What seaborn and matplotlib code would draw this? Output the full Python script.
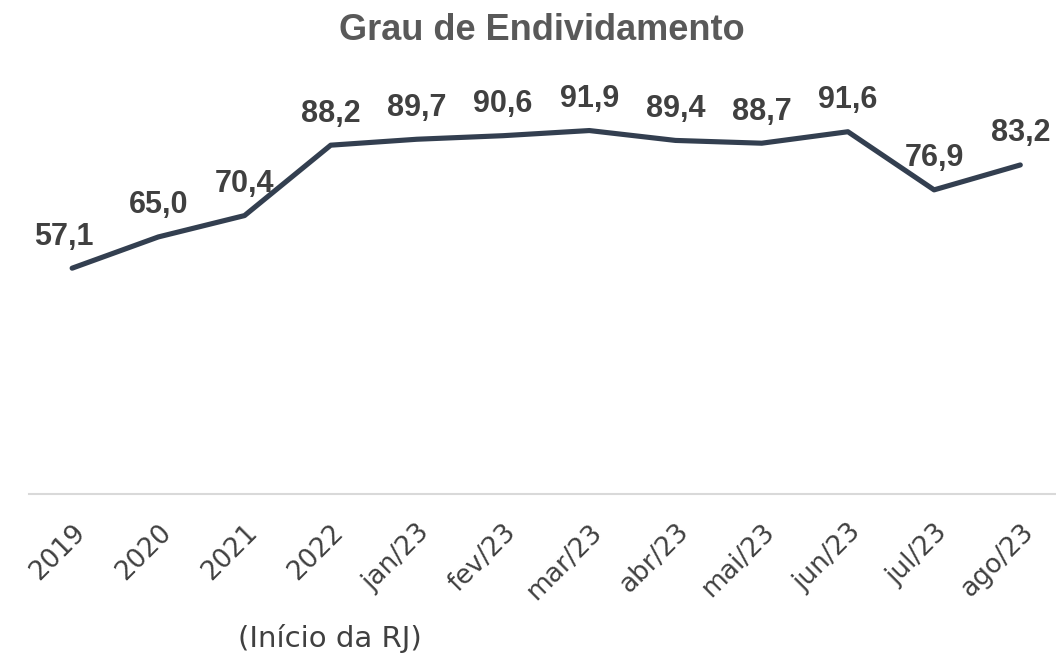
import pandas as pd
import seaborn as sb
import matplotlib.pyplot as plt

# dados do grafico
periodos = ["2019", "2020", "2021", "2022", "jan/23", "fev/23", "mar/23",
            "abr/23", "mai/23", "jun/23", "jul/23", "ago/23"]
grau = [57.1, 65.0, 70.4, 88.2, 89.7, 90.6, 91.9, 89.4, 88.7, 91.6, 76.9, 83.2]
rotulos = ["57,1", "65,0", "70,4", "88,2", "89,7", "90,6", "91,9",
           "89,4", "88,7", "91,6", "76,9", "83,2"]

df = pd.DataFrame({"periodo": periodos, "grau": grau})
df["pos"] = range(len(df))

sb.set_style("white")
plt.rcParams['font.family'] = ['DejaVu Sans']

fig = plt.figure(figsize=(10.56, 6.55), dpi=100)
ax = fig.add_axes([0.0275, 0.2458, 0.9795, 0.6038])

sb.lineplot(data=df, x="pos", y="grau", color="#333F50", linewidth=3.7, ax=ax)

# rotulos dos valores
for x, y, t in zip(df["pos"], df["grau"], rotulos):
    ax.annotate(t, (x, y), xytext=(-6 if x == 0 else 0, 12), textcoords="offset points",
                ha="center", va="bottom", fontsize=22, fontweight="bold",
                color="#404040", family="Liberation Sans", clip_on=False)

ax.set_xlim(-0.5, len(df) - 0.5)
ax.set_ylim(0, 100)
ax.set_xticks(df["pos"])
ax.set_xticklabels(periodos, rotation=45, ha="right", rotation_mode="anchor",
                   fontsize=19, color="#404040")
ax.tick_params(axis="x", length=0, pad=18)
ax.set_yticks([])
ax.set_xlabel("")
ax.set_ylabel("")
for s in ["top", "left", "right"]:
    ax.spines[s].set_visible(False)
ax.spines["bottom"].set_color("#D9D9D9")
ax.spines["bottom"].set_linewidth(1.5)

fig.text(0.513, 0.953, "Grau de Endividamento", ha="center", va="center",
         fontsize=26, fontweight="bold", color="#595959", family="Liberation Sans")
fig.text(0.312, 0.025, "(Início da RJ)", ha="center", va="center",
         fontsize=21, color="#404040")

fig.savefig("out.png", dpi=100)
